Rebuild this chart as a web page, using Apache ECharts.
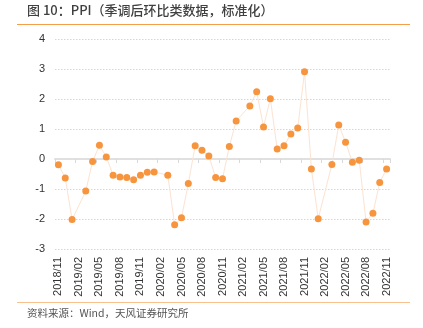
<!DOCTYPE html>
<html>
<head>
<meta charset="utf-8">
<script src="https://cdn.jsdelivr.net/npm/echarts@6/dist/echarts.min.js"></script>
<style>
  html, body { margin: 0; padding: 0; background: #ffffff; }
  #chart { width: 423px; height: 328px; }
</style>
</head>
<body>
<div id="chart"></div>
<script>
// Monthly categories, 2018/11 to 2022/11
const months = [
  '2018/11','2018/12',
  '2019/01','2019/02','2019/03','2019/04','2019/05','2019/06','2019/07','2019/08','2019/09','2019/10','2019/11','2019/12',
  '2020/01','2020/02','2020/03','2020/04','2020/05','2020/06','2020/07','2020/08','2020/09','2020/10','2020/11','2020/12',
  '2021/01','2021/02','2021/03','2021/04','2021/05','2021/06','2021/07','2021/08','2021/09','2021/10','2021/11','2021/12',
  '2022/01','2022/02','2022/03','2022/04','2022/05','2022/06','2022/07','2022/08','2022/09','2022/10','2022/11'
];

// PPI, seasonally adjusted m/m, standardised (February not published separately)
const ppiValues = [
  -0.19, -0.63,
  -2.02, null, -1.07, -0.08, 0.46, 0.07, -0.54, -0.60, -0.62, -0.69, -0.54, -0.44,
  -0.43, null, -0.54, -2.19, -1.96, -0.82, 0.44, 0.29, 0.10, -0.62, -0.66, 0.42,
  1.27, null, 1.77, 2.24, 1.07, 2.01, 0.33, 0.44, 0.83, 1.03, 2.91, -0.33,
  -1.99, null, -0.18, 1.13, 0.56, -0.11, -0.04, -2.10, -1.81, -0.78, -0.33
];

const yTicks = { min: -3, max: 4, interval: 1 };

const titleText = '图 10：PPI（季调后环比类数据，标准化）';
const sourceText = '资料来源：Wind，天风证券研究所';

const chart = echarts.init(document.getElementById('chart'), null, { renderer: 'canvas' });

chart.setOption({
  animation: false,
  backgroundColor: '#ffffff',
  grid: { left: 55, right: 33, top: 39, bottom: 79, containLabel: false },
  graphic: [
    {
      type: 'text', left: 27, top: 4,
      style: { text: titleText, fill: '#404040', font: '500 13px "Noto Sans CJK SC", sans-serif' }
    },
    {
      type: 'line', shape: { x1: 17, y1: 24.5, x2: 410, y2: 24.5 },
      style: { stroke: '#F59D4B', lineWidth: 1.2 }
    },
    {
      type: 'line', shape: { x1: 17, y1: 302.5, x2: 410, y2: 302.5 },
      style: { stroke: '#F8C28F', lineWidth: 1.2 }
    },
    {
      type: 'text', left: 27, top: 308,
      style: { text: sourceText, fill: '#555555', font: '10.5px "Noto Sans CJK SC", sans-serif' }
    }
  ],
  xAxis: [
    {
      // axis line with ticks drawn at zero
      type: 'category',
      data: months,
      boundaryGap: true,
      position: 'bottom',
      axisLine: { onZero: true, lineStyle: { color: '#e0e0e0', width: 2 } },
      axisTick: { show: true, interval: 2, length: 4, lineStyle: { color: '#d9d9d9', width: 1 } },
      axisLabel: { show: false },
      splitLine: { show: false }
    },
    {
      // date labels along the bottom of the plot
      type: 'category',
      data: months,
      boundaryGap: true,
      position: 'bottom',
      axisLine: { show: false, onZero: false },
      axisTick: { show: false },
      axisLabel: {
        interval: 2, rotate: 90, margin: 8,
        color: '#333333', fontSize: 11, fontFamily: '"Liberation Sans", Arial, sans-serif'
      },
      splitLine: { show: false }
    }
  ],
  yAxis: {
    type: 'value',
    min: yTicks.min, max: yTicks.max, interval: yTicks.interval,
    axisLine: { show: false },
    axisTick: { show: false },
    axisLabel: { color: '#333333', fontSize: 11, margin: 10, fontFamily: '"Liberation Sans", Arial, sans-serif' },
    splitLine: { show: true, lineStyle: { color: '#d6d6d6', type: [1.5, 1.5], width: 1 } }
  },
  series: [
    {
      type: 'line',
      data: ppiValues,
      xAxisIndex: 0,
      connectNulls: true,
      symbol: 'circle',
      symbolSize: 7,
      showSymbol: true,
      showAllSymbol: true,
      lineStyle: { color: '#FCE3D2', width: 1 },
      itemStyle: { color: '#F7953F', borderWidth: 0 },
      z: 3
    }
  ]
});
</script>
</body>
</html>
